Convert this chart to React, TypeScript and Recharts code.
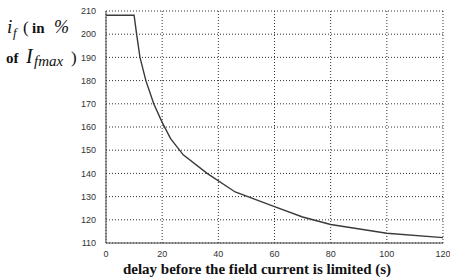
import React from "react";
import { LineChart, Line, XAxis, YAxis, CartesianGrid } from "recharts";

const delaySeconds = [0, 10, 10.9, 12.1, 14.2, 17, 20, 23, 27.5, 36, 46, 60, 70, 80, 100, 120];
const fieldCurrentPct = [208.2, 208.2, 200, 190, 180, 170, 162, 155, 148, 140, 132, 125.7, 121.2, 118, 114.2, 112.3];
const xTicks = [0, 20, 40, 60, 80, 100, 120];
const yTicks = [110, 120, 130, 140, 150, 160, 170, 180, 190, 200, 210];

const data = delaySeconds.map((t, i) => ({ t, v: fieldCurrentPct[i] }));

const tickStyle = { fontSize: 9, fill: "#333", fontFamily: "'Liberation Sans', Arial, sans-serif" };
const serif = "'Liberation Serif', 'DejaVu Serif', serif";

export default function App() {
  return (
    <div style={{ position: "absolute", left: 0, top: 0, width: 450, height: 279, background: "#fff" }}>
      <LineChart
        width={450}
        height={279}
        data={data}
        margin={{ top: 11, right: 7, bottom: 16, left: 76 }}
      >
        <CartesianGrid stroke="#333" strokeDasharray="1 2" strokeWidth={1} />
        <XAxis
          dataKey="t"
          type="number"
          domain={[0, 120]}
          ticks={xTicks}
          height={20}
          tickLine={false}
          axisLine={{ stroke: "#444" }}
          tick={tickStyle}
          tickMargin={2}
          interval={0}
        />
        <XAxis
          xAxisId="top"
          orientation="top"
          type="number"
          domain={[0, 120]}
          height={0}
          tick={false}
          tickLine={false}
          axisLine={{ stroke: "#444" }}
        />
        <YAxis
          type="number"
          domain={[110, 210]}
          ticks={yTicks}
          width={30}
          tickLine={false}
          axisLine={{ stroke: "#444" }}
          tick={tickStyle}
          tickMargin={4}
          interval={0}
        />
        <YAxis
          yAxisId="right"
          orientation="right"
          type="number"
          domain={[110, 210]}
          width={0}
          tick={false}
          tickLine={false}
          axisLine={{ stroke: "#444" }}
        />
        <Line
          dataKey="v"
          type="linear"
          stroke="#3a3a3a"
          strokeWidth={1.4}
          dot={false}
          isAnimationActive={false}
        />
      </LineChart>
      <svg
        width={450}
        height={279}
        style={{ position: "absolute", left: 0, top: 0, pointerEvents: "none", fontFamily: serif }}
      >
        <g fill="#111" style={{ fontFamily: serif }}>
          <text x={7} y={33} fontSize={19} fontStyle="italic">i</text>
          <text x={13} y={37} fontSize={13} fontStyle="italic">f</text>
          <text x={23} y={33} fontSize={17}>(</text>
          <text x={32} y={33} fontSize={15} fontWeight="bold">in</text>
          <text x={54} y={33} fontSize={18} fontStyle="italic">%</text>
          <text x={6} y={63} fontSize={15} fontWeight="bold">of</text>
          <text x={26} y={63} fontSize={20} fontStyle="italic">I</text>
          <text x={34} y={66} fontSize={15} fontStyle="italic">fmax</text>
          <text x={71} y={63} fontSize={17}>)</text>
          <text x={257} y={274} fontSize={15} fontWeight="bold" textAnchor="middle">
            delay before the field current is limited (s)
          </text>
        </g>
      </svg>
    </div>
  );
}
